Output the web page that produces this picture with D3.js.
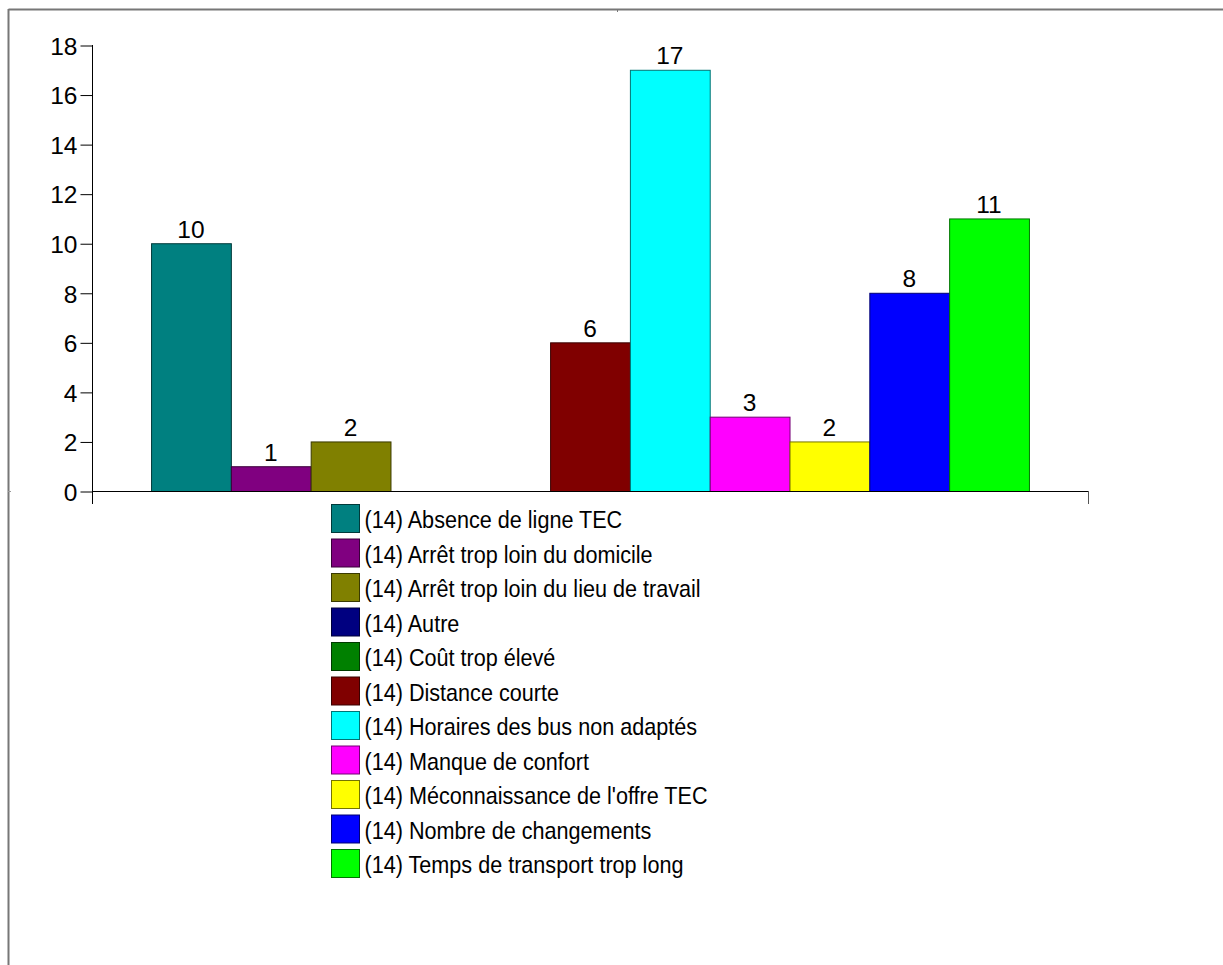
<!DOCTYPE html>
<html>
<head>
<meta charset="utf-8">
<script src="https://cdn.jsdelivr.net/npm/d3@7"></script>
<style>
  html, body { margin: 0; padding: 0; background: #fff; }
  svg { display: block; font-family: "Liberation Sans", Arial, sans-serif; }
</style>
</head>
<body>
<svg id="chart" width="1223" height="965"></svg>
<script>
const seriesNames = [
  "(14) Absence de ligne TEC",
  "(14) Arrêt trop loin du domicile",
  "(14) Arrêt trop loin du lieu de travail",
  "(14) Autre",
  "(14) Coût trop élevé",
  "(14) Distance courte",
  "(14) Horaires des bus non adaptés",
  "(14) Manque de confort",
  "(14) Méconnaissance de l'offre TEC",
  "(14) Nombre de changements",
  "(14) Temps de transport trop long"
];
const seriesValues = [10, 1, 2, 0, 0, 6, 17, 3, 2, 8, 11];
const seriesColors = ["#008080", "#800080", "#808000", "#000080", "#008000", "#800000",
                      "#00ffff", "#ff00ff", "#ffff00", "#0000ff", "#00ff00"];
const yTicks = [0, 2, 4, 6, 8, 10, 12, 14, 16, 18];

const svg = d3.select("#chart");

// outer frame (top and left edges)
svg.append("line").attr("x1", 8.5).attr("x2", 1223).attr("y1", 9.5).attr("y2", 9.5)
  .attr("stroke", "#777").attr("stroke-width", 2);
svg.append("line").attr("x1", 8.5).attr("x2", 8.5).attr("y1", 9).attr("y2", 965)
  .attr("stroke", "#777").attr("stroke-width", 2);
svg.append("line").attr("x1", 617.5).attr("x2", 617.5).attr("y1", 9).attr("y2", 12)
  .attr("stroke", "#777").attr("stroke-width", 1);
svg.append("line").attr("x1", 8).attr("x2", 11).attr("y1", 491.5).attr("y2", 491.5)
  .attr("stroke", "#999").attr("stroke-width", 1);

const plotLeft = 92, plotRight = 1088;
const y = d3.scaleLinear().domain([0, 18]).range([491, 45]);
const x = d3.scaleBand().domain(seriesNames).range([plotLeft, plotRight])
  .paddingInner(0).paddingOuter(0.74);

// bars
svg.append("g").selectAll("rect")
  .data(seriesNames.map((n, i) => ({ n, v: seriesValues[i], c: seriesColors[i] })).filter(d => d.v > 0))
  .join("rect")
  .attr("x", d => x(d.n) + 0.5)
  .attr("width", x.bandwidth())
  .attr("y", d => y(d.v) + 0.5)
  .attr("height", d => y(0) - y(d.v))
  .attr("fill", d => d.c)
  .attr("stroke", d => d3.color(d.c).darker(2.2))
  .attr("stroke-width", 1);

// value labels
svg.append("g").selectAll("text")
  .data(seriesNames.map((n, i) => ({ n, v: seriesValues[i] })).filter(d => d.v > 0))
  .join("text")
  .attr("x", d => x(d.n) + x.bandwidth() / 2)
  .attr("y", d => y(d.v) - 5.5)
  .attr("text-anchor", "middle")
  .attr("font-size", 24.5)
  .attr("fill", "#000")
  .text(d => d.v);

// y axis
const yAxis = d3.axisLeft(y).tickValues(yTicks).tickSize(12).tickPadding(3).tickFormat(d3.format("d"));
const gy = svg.append("g").attr("transform", `translate(${plotLeft + 0.5},0.5)`).call(yAxis);
gy.select(".domain").remove();
gy.selectAll(".tick line").attr("stroke", "#000");
gy.selectAll(".tick text").attr("font-size", 24.5).attr("font-family", "Liberation Sans, Arial, sans-serif")
  .attr("fill", "#000").attr("dy", "0.36em");
svg.append("line").attr("x1", plotLeft + 0.5).attr("x2", plotLeft + 0.5)
  .attr("y1", y(18)).attr("y2", y(0) + 13).attr("stroke", "#000");

// x axis
svg.append("line").attr("x1", plotLeft).attr("x2", plotRight + 0.5)
  .attr("y1", y(0) + 0.5).attr("y2", y(0) + 0.5).attr("stroke", "#000");
svg.append("line").attr("x1", plotRight + 0.5).attr("x2", plotRight + 0.5)
  .attr("y1", y(0)).attr("y2", y(0) + 13).attr("stroke", "#555");

// legend
const legend = svg.append("g").attr("transform", "translate(331.5,504.5)");
const row = legend.selectAll("g").data(seriesNames).join("g")
  .attr("transform", (d, i) => `translate(0,${i * 34.5})`);
row.append("rect").attr("width", 28).attr("height", 28)
  .attr("fill", (d, i) => seriesColors[i])
  .attr("stroke", (d, i) => d3.color(seriesColors[i]).darker(2.2));
row.append("text")
  .attr("transform", "translate(33,23.5) scale(0.9,1)")
  .attr("font-size", 24).attr("fill", "#000").text(d => d);
</script>
</body>
</html>
